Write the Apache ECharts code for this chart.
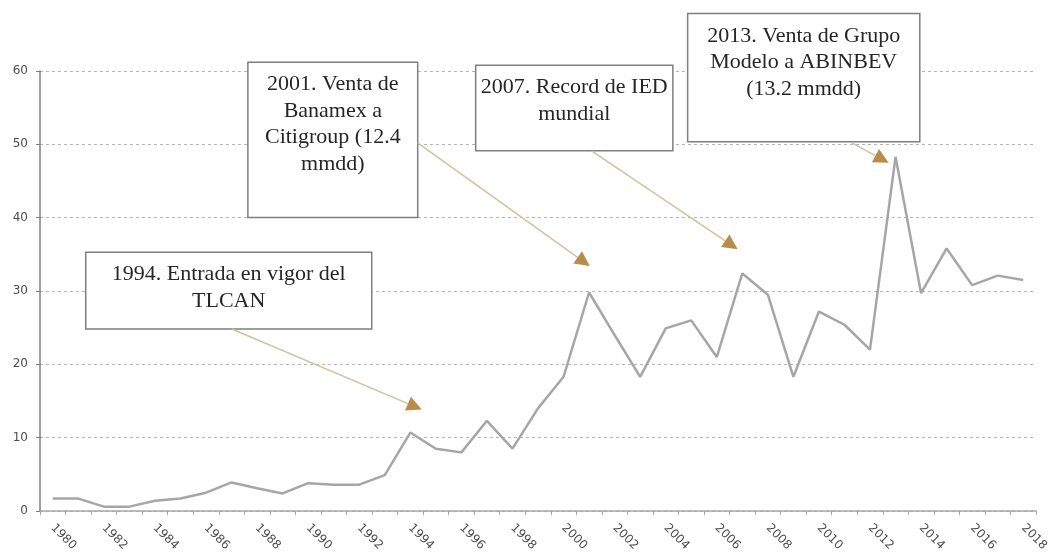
<!DOCTYPE html>
<html>
<head>
<meta charset="utf-8">
<script src="https://cdn.jsdelivr.net/npm/echarts@6/dist/echarts.min.js"></script>
<style>html,body{margin:0;padding:0;background:#fff}#c{width:1053px;height:554px}</style>
</head>
<body>
<div id="c"></div>
<script>
// Categories (years)
var years = [];
for (var y = 1980; y <= 2018; y++) years.push(String(y));
// IED values (mmdd)
var values = [1.7,1.7,0.6,0.6,1.4,1.7,2.5,3.9,3.1,2.4,3.8,3.6,3.6,4.9,10.7,8.5,8.0,12.3,8.5,14.0,18.3,29.8,24.0,18.3,24.9,26.0,21.0,32.4,29.5,18.3,27.2,25.4,22.0,48.3,29.7,35.8,30.8,32.1,31.5];
var yTicks = [0,10,20,30,40,50,60];

// Annotations in data space: box corners (year, value) and arrow (from, to)
var annotations = [
  {text: "1994. Entrada en vigor del\nTLCAN", box: [1981.29, 35.28, 1992.49, 24.83], from: [1987.01, 24.83], to: [1994.45, 13.84]},
  {text: "2001. Venta de\nBanamex a\nCitigroup (12.4\nmmdd)", box: [1987.64, 61.2, 1994.29, 40.03], from: [1994.29, 50.2], to: [2001.03, 33.4]},
  {text: "2007. Record de IED\nmundial", box: [1996.56, 60.79, 2004.28, 49.12], from: [2001.1, 49.1], to: [2006.82, 35.7]},
  {text: "2013. Venta de Grupo\nModelo a ABINBEV\n(13.2 mmdd)", box: [2004.86, 67.84, 2013.95, 50.34], from: [2011.29, 50.2], to: [2012.73, 47.5]}
];

var chart = echarts.init(document.getElementById('c'), null, {renderer: 'canvas'});
chart.setOption({
  animation: false,
  backgroundColor: '#ffffff',
  grid: {left: 40, right: 17, top: 71, bottom: 41, containLabel: false},
  xAxis: {
    type: 'category',
    data: years,
    boundaryGap: true,
    axisLine: {show: true, lineStyle: {color: '#a6a6a6', width: 1.5}},
    axisTick: {show: true, interval: 0, length: 4, lineStyle: {color: '#a6a6a6'}},
    axisLabel: {interval: 1, rotate: -45, margin: 15, color: '#4d4d4d', fontFamily: 'DejaVu Sans', fontSize: 12},
    splitLine: {show: false}
  },
  yAxis: {
    type: 'value',
    min: yTicks[0], max: yTicks[yTicks.length - 1], interval: 10,
    axisLine: {show: true, lineStyle: {color: '#7f7f7f', width: 1.5}},
    axisTick: {show: true, length: 4, lineStyle: {color: '#7f7f7f'}},
    axisLabel: {margin: 12, color: '#4d4d4d', fontFamily: 'DejaVu Sans', fontSize: 12},
    splitLine: {show: true, lineStyle: {color: '#b5b5b5', type: [3, 3], width: 1}}
  },
  series: [{
    type: 'line',
    data: values,
    symbol: 'none',
    lineStyle: {color: '#a6a6a6', width: 2.5},
    z: 2
  }]
});

function px(pt) {
  var x0 = chart.convertToPixel({gridIndex: 0}, [0, 0]);
  var x1 = chart.convertToPixel({gridIndex: 0}, [1, 10]);
  var dx = x1[0] - x0[0], dy = (x1[1] - x0[1]) / 10;
  return [x0[0] + (pt[0] - 1980) * dx, x0[1] + pt[1] * dy];
}

var elements = [];
annotations.forEach(function (a) {
  var p0 = px([a.box[0], a.box[1]]);
  var p1 = px([a.box[2], a.box[3]]);
  var w = p1[0] - p0[0], h = p1[1] - p0[1];
  elements.push({
    type: 'rect', z: 10,
    shape: {x: p0[0], y: p0[1], width: w, height: h},
    style: {fill: '#ffffff', stroke: '#7f7f7f', lineWidth: 1.5}
  });
  elements.push({
    type: 'text', z: 11,
    x: p0[0] + w / 2, y: p0[1] + 9,
    style: {text: a.text, fill: '#262626', font: '22px "Liberation Serif", "Times New Roman", serif', align: 'center', verticalAlign: 'top', lineHeight: 26.5}
  });
  var s = px(a.from), e = px(a.to);
  var ang = Math.atan2(e[1] - s[1], e[0] - s[0]);
  var L = 15, W = 7.5;
  var bx = e[0] - L * Math.cos(ang), by = e[1] - L * Math.sin(ang);
  elements.push({
    type: 'line', z: 12,
    shape: {x1: s[0], y1: s[1], x2: bx, y2: by},
    style: {stroke: '#d6bf9c', lineWidth: 1.5}
  });
  elements.push({
    type: 'polygon', z: 12,
    shape: {points: [[e[0], e[1]], [bx + W * Math.sin(ang), by - W * Math.cos(ang)], [bx - W * Math.sin(ang), by + W * Math.cos(ang)]]},
    style: {fill: '#b98c4c'}
  });
});
chart.setOption({graphic: {elements: elements}});
</script>
</body>
</html>
